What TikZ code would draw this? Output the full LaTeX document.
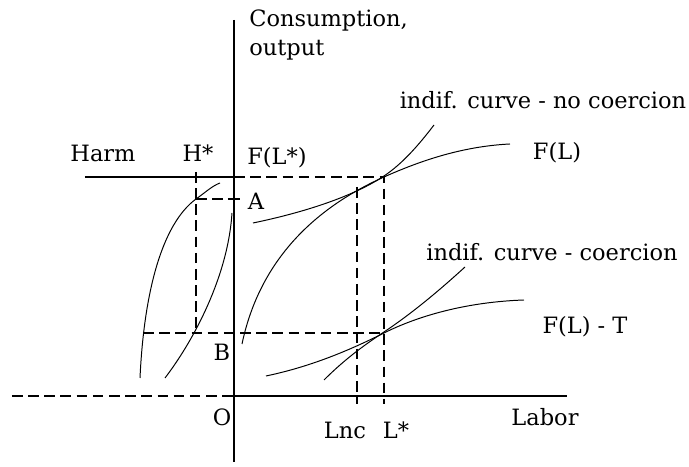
\documentclass[tikz,border=0pt]{standalone}
\usepackage{fontspec}
\setmainfont{DejaVu Serif}
\usetikzlibrary{calc}

\begin{document}
\begin{tikzpicture}[font=\fontsize{16}{21}\selectfont, line width=0.9pt,
    dsh/.style={dash pattern=on 7.5pt off 4pt},
    crv/.style={line width=0.7pt}]
    \useasboundingbox (-5.85,-1.775) rectangle (11.375,9.9);

    % axes
    \coordinate (O) at (0,0);
    \coordinate (ytop) at (0,9.4);
    \coordinate (ybot) at (0,-1.65);
    \coordinate (xend) at (8.325,0);
    \coordinate (xleft) at (-5.55,0);
    \draw (ytop) -- (ybot);
    \draw (O) -- (xend);
    \draw[dsh] (xleft) -- (O);

    % harm line and points A, B
    \coordinate (FLs) at (0,5.475);
    \coordinate (harmL) at (-3.725,5.475);
    \coordinate (A) at (0,4.925);
    \coordinate (Abot) at (0,4.525);
    \coordinate (B) at (0,1.575);
    \draw (harmL) -- (FLs);
    \draw[line width=1.8pt] (FLs) -- (Abot);
    \draw ($(A)+(-0.15,0)$) -- ($(A)+(0.15,0)$);

    % optimum L*, Lnc
    \coordinate (Ls) at (3.75,-0.2);
    \coordinate (Lsup) at (3.75,5.475);
    \coordinate (Lnc) at (3.075,-0.2);
    \coordinate (Lncup) at (3.075,5.225);
    \coordinate (Hs) at (-0.95,5.6);
    \coordinate (HsB) at (-0.95,1.575);
    \coordinate (HsA) at (-0.95,4.925);
    \coordinate (Bleft) at (-2.275,1.575);
    \coordinate (BLs) at (3.75,1.575);
    \draw[dsh] (FLs) -- (Lsup) -- (Ls);
    \draw[dsh] (Lncup) -- (Lnc);
    \draw[dsh] (Hs) -- (HsB);
    \draw[dsh] (HsA) -- (A);
    \draw[dsh] (Bleft) -- (BLs);

    % curves
    \draw[crv] (0.2,1.3) .. controls (0.6,3.2) and (1.8,4.6) .. (3.75,5.475)
        .. controls (4.9,5.99) and (5.9,6.25) .. (6.9,6.3);
    \draw[crv] (0.475,4.325) .. controls (1.8,4.6) and (3.0,5.0) .. (3.75,5.5)
        .. controls (4.2,5.8) and (4.6,6.25) .. (5.0,6.775);
    \draw[crv] (0.8,0.5) .. controls (2.0,0.75) and (3.0,1.2) .. (3.75,1.575)
        .. controls (4.6,2.0) and (5.8,2.35) .. (7.25,2.4);
    \draw[crv] (2.25,0.4) .. controls (2.8,0.95) and (3.3,1.3) .. (3.75,1.6)
        .. controls (4.5,2.1) and (5.2,2.7) .. (5.775,3.225);
    \draw[crv] (-2.35,0.45) .. controls (-2.25,2.6) and (-1.8,4.3) .. (-0.95,4.925)
        .. controls (-0.7,5.1) and (-0.55,5.25) .. (-0.35,5.325);
    \draw[crv] (-1.725,0.45) .. controls (-1.0,1.4) and (-0.15,3.0) .. (-0.05,4.575);

    % labels
    \node[anchor=west, align=left] (ylab) at (0.25,9.025) {Consumption,\\output};
    \node (xlab) at (7.775,-0.525) {Labor};
    \node (harm) at (-3.275,6.075) {Harm};
    \node (hstar) at (-0.9,6.075) {H*};
    \node (flstar) at (1.075,5.95) {F(L*)};
    \node (alab) at (0.55,4.875) {A};
    \node (blab) at (-0.3,1.1) {B};
    \node (olab) at (-0.3,-0.525) {O};
    \node (lnclab) at (2.775,-0.85) {Lnc};
    \node (lslab) at (4.05,-0.85) {L*};
    \node (fl) at (8.075,6.075) {F(L)};
    \node (flt) at (8.775,1.725) {F(L) - T};
    \node (icnc) at (7.725,7.4) {indif. curve - no coercion};
    \node (icc) at (7.95,3.6) {indif. curve - coercion};
\end{tikzpicture}
\end{document}
